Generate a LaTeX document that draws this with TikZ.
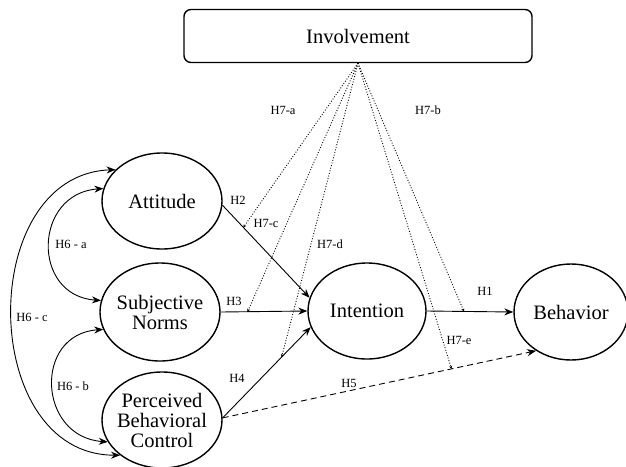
\documentclass[tikz,border=0pt]{standalone}
\usepackage{fontspec}
\setmainfont{Liberation Serif}
\usetikzlibrary{shapes.geometric,arrows.meta}
\newcommand{\hsz}{\fontsize{12.5}{14}\selectfont}
\newcommand{\csz}{\fontsize{20.5}{20}\selectfont}

\begin{document}
\begin{tikzpicture}[x=1pt,y=-1pt,
   construct/.style={draw,ellipse,line width=1.4pt,inner xsep=-5pt,inner ysep=0pt,
      minimum width=120pt,minimum height=96pt,align=center,font=\csz},
   path/.style={-{Stealth[length=9pt,width=7pt]},line width=0.9pt},
   both/.style={{Stealth[length=9pt,width=7pt]}-{Stealth[length=9pt,width=7pt]},line width=0.9pt},
   moder/.style={-{Stealth[length=3pt,width=3pt]},line width=0.9pt,dash pattern=on 0.9pt off 1.8pt},
   hyp/.style={font=\hsz,inner sep=0pt}]
   \useasboundingbox (0,0) rectangle (626,466);
   % constructs
   \node[draw,rounded corners=7pt,line width=1.4pt,minimum width=348pt,minimum height=53pt,font=\csz] (inv) at (358,36) {Involvement};
   \node[construct] (att) at (162,201) {Attitude};
   \node[construct,minimum height=98pt] (sn) at (160,312) {Subjective\\Norms};
   \node[construct] (pbc) at (162,420) {Perceived\\Behavioral\\Control};
   \node[construct,minimum width=118pt] (int) at (367,311) {Intention};
   \node[construct,minimum width=114pt] (beh) at (571,312) {Behavior};
   % direct paths
   \draw[path] (att.-4) -- coordinate[pos=0.24] (m2) (int.167);
   \draw[path] (sn.east) -- coordinate[pos=0.31] (m3) (int.west);
   \draw[path] (pbc.2) -- coordinate[pos=0.67] (m4) (int.196);
   \draw[path] (int.east) -- coordinate[pos=0.43] (m1) (beh.west);
   \draw[path,dash pattern=on 6pt off 4pt] (pbc.2) -- coordinate[pos=0.73] (m5) (beh.228);
   % moderation by involvement
   \draw[moder] (inv.south) -- (m2);
   \draw[moder] (inv.south) -- (m3);
   \draw[moder] (inv.south) -- (m4);
   \draw[moder] (inv.south) -- (m1);
   \draw[moder] (inv.south) -- (m5);
   % correlations
   \draw[both] (att.168) .. controls +(-70,5) and +(-70,-5) .. (sn.169);
   \draw[both] (sn.197) .. controls +(-70,5) and +(-70,-5) .. (pbc.202);
   \draw[both] (att.146) .. controls +(-140,5) and +(-142,0) .. (pbc.220);
   % labels
   \node[hyp] (h1)  at (485,291) {H1};
   \node[hyp] (h2)  at (238,200) {H2};
   \node[hyp] (h3)  at (234,301) {H3};
   \node[hyp] (h4)  at (237,378) {H4};
   \node[hyp] (h5)  at (349,383) {H5};
   \node[hyp] (h6a) at (71,244)  {H6 - a};
   \node[hyp] (h6b) at (73,386)  {H6 - b};
   \node[hyp] (h6c) at (32,317)  {H6 - c};
   \node[hyp] (h7a) at (283,110) {H7-a};
   \node[hyp] (h7b) at (428,110) {H7-b};
   \node[hyp] (h7c) at (266,223) {H7-c};
   \node[hyp] (h7d) at (330,244) {H7-d};
   \node[hyp] (h7e) at (459,340) {H7-e};
\end{tikzpicture}
\end{document}
